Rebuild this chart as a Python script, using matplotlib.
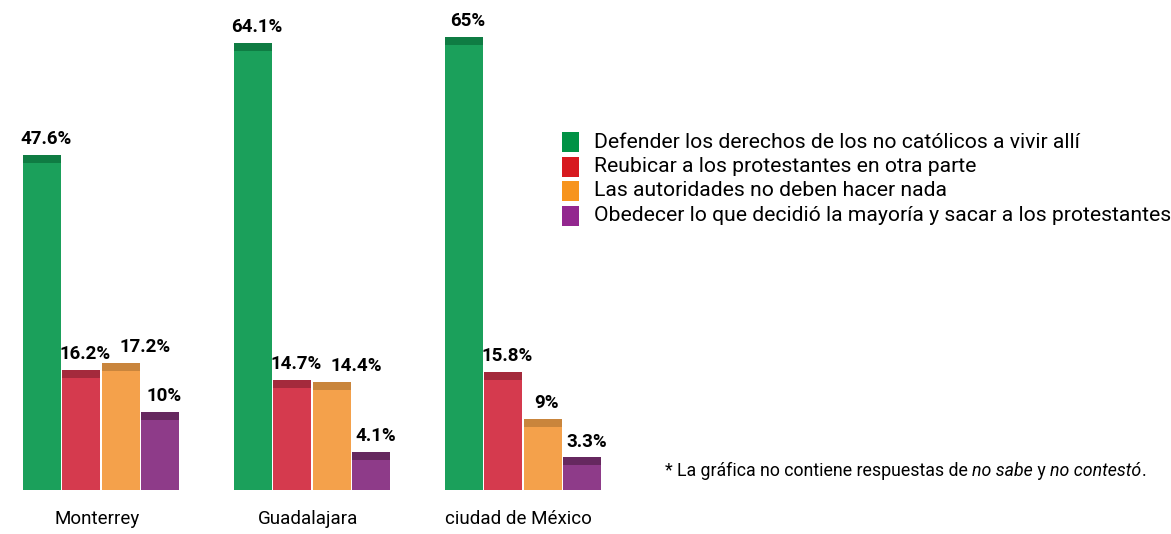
import numpy as np
import matplotlib
matplotlib.use("Agg")
import matplotlib.pyplot as plt
from matplotlib.patches import Rectangle

plt.rcParams['font.family'] = ['Roboto', 'DejaVu Sans']

cities = ["Monterrey", "Guadalajara", "ciudad de México"]
defender = [47.6, 64.1, 65]
reubicar = [16.2, 14.7, 15.8]
nada = [17.2, 14.4, 9]
obedecer = [10, 4.1, 3.3]

series = ["Defender los derechos de los no católicos a vivir allí",
          "Reubicar a los protestantes en otra parte",
          "Las autoridades no deben hacer nada",
          "Obedecer lo que decidió la mayoría y sacar a los protestantes"]
bar_colors = ["#1ba05b", "#d53a4e", "#f4a14b", "#8e3b89"]
cap_colors = ["#0f7c43", "#a42a3c", "#c9853c", "#66285f"]
leg_colors = ["#009245", "#d7191f", "#f7941d", "#93278f"]

W, H = 1171, 534
fig = plt.figure(figsize=(W / 100, H / 100), dpi=100)
ax = fig.add_axes([0, 0, 1, 1])
ppx = 6.82  # pixels per percent
x0 = 101    # center of first group in px
gs = 211    # group spacing px
ax.set_xlim(-x0 / gs, (W - x0) / gs)
ax.set_ylim(-(H - 480) / ppx, 480 / ppx)
ax.axis("off")

x = np.arange(len(cities))
w = 0.178
depth = 10 / ppx
cap = 8 / ppx
renderer = fig.canvas.get_renderer()
labels = [[] for _ in cities]
for k, vals in enumerate([defender, reubicar, nada, obedecer]):
    xs = x + (k - 1.5) * 0.187
    v = np.array(vals)
    ax.bar(xs, v + depth, bottom=-depth, width=w, color=bar_colors[k], lw=0)
    ax.bar(xs, cap, bottom=v - cap, width=w, color=cap_colors[k], lw=0)
    for i, (xi, vi) in enumerate(zip(xs, vals)):
        t = ax.annotate(f"{vi:g}%", (xi, vi), xytext=(3, 5), textcoords="offset points",
                        ha="center", va="bottom", fontsize=13.5, fontweight="bold")
        labels[i].append(t)

# nudge labels right when they run into the previous one
for grp in labels:
    for a, b in zip(grp[:-1], grp[1:]):
        ba = a.get_window_extent(renderer)
        bb = b.get_window_extent(renderer)
        if bb.x0 < ba.x1 + 8 and bb.y0 < ba.y1 and bb.y1 > ba.y0:
            dx, dy = b.get_position()
            b.set_position((dx + (ba.x1 + 8 - bb.x0) * 0.72, dy))

for xi, c in zip(x, cities):
    ax.text(xi - 0.02, -(519 - 480) / ppx, c, ha="center", va="center", fontsize=13.5)

# legend
for k, (s, c) in enumerate(zip(series, leg_colors)):
    yc = 142 + 24.5 * k
    ax.add_patch(Rectangle((562 / W, 1 - (yc + 10) / H), 17 / W, 20 / H,
                           transform=ax.transAxes, facecolor=c, lw=0))
    ax.text(594 / W, 1 - yc / H, s, transform=ax.transAxes, fontsize=15.2,
            va="center", ha="left")

# footnote with italic pieces
parts = [("* La gráfica no contiene respuestas de ", "normal"),
         ("no sabe", "italic"), (" y ", "normal"),
         ("no contestó", "italic"), (".", "normal")]
xp = 665
for s, st in parts:
    t = fig.text(xp / W, 1 - 471 / H, s, fontsize=12.8, style=st, va="center", ha="left")
    bb = t.get_window_extent(renderer=renderer)
    xp = bb.x1

fig.savefig("out.png", dpi=100)
